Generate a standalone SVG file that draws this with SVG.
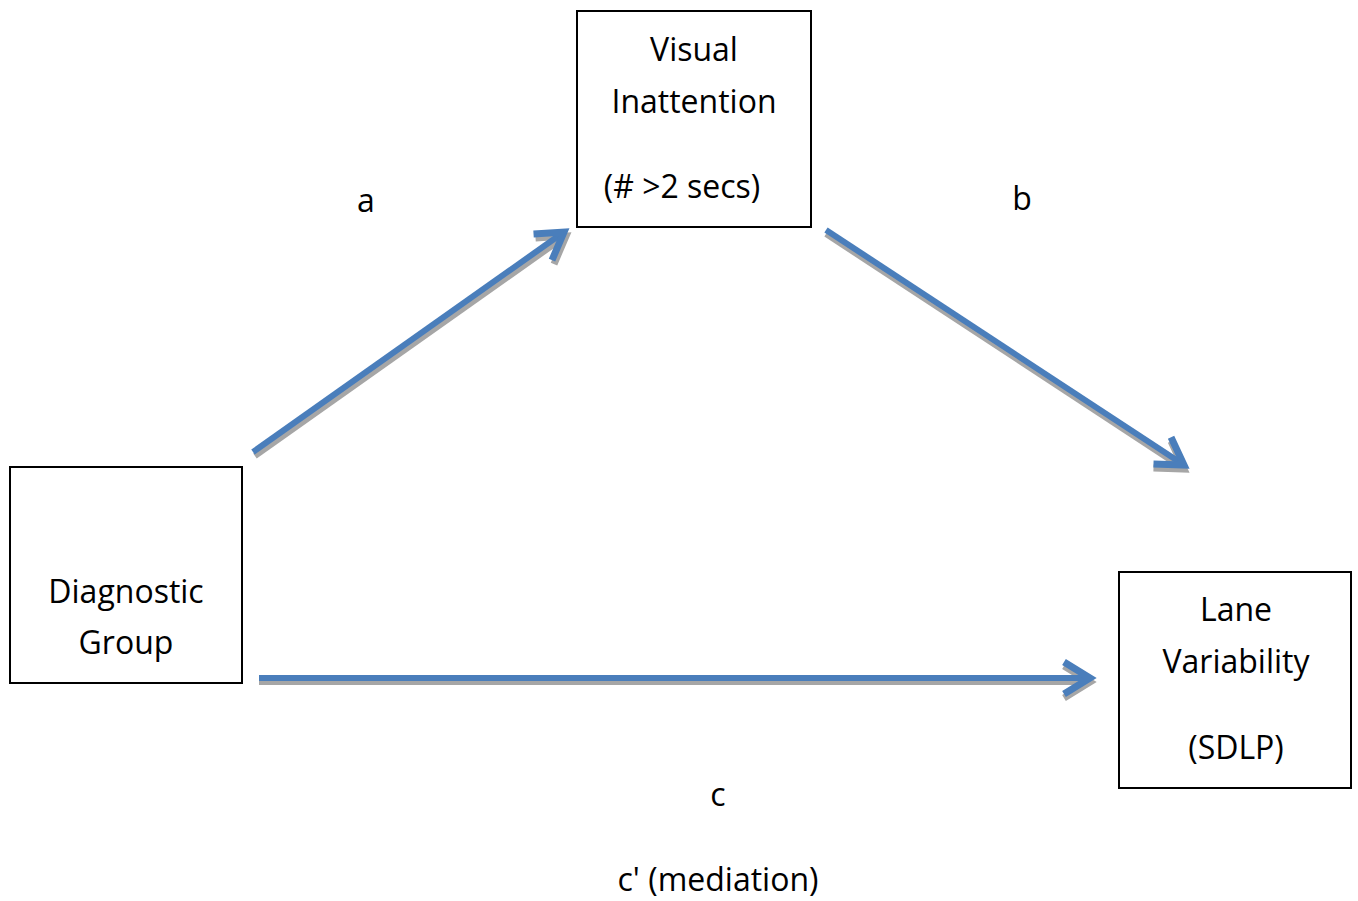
<svg xmlns="http://www.w3.org/2000/svg" width="1358" height="901" viewBox="0 0 1358 901">
<style>
.box{fill:#fff;stroke:#000;stroke-width:2}
.t{font-family:"Open Sans","Liberation Sans",sans-serif;font-size:32px;fill:#000;text-anchor:middle}
.ln{fill:none;stroke:#4a7ebb;stroke-width:6}
.sh{fill:none;stroke:#a6a6a6;stroke-width:6}
</style>
<defs>
<marker id="ah" markerUnits="userSpaceOnUse" viewBox="-40 -30 50 60" refX="0" refY="0" markerWidth="50" markerHeight="60" orient="auto" overflow="visible">
<path d="M-26,-16 L0,0 L-26,16" fill="none" stroke="#4a7ebb" stroke-width="7" stroke-linejoin="miter"/>
</marker>
<marker id="ahs" markerUnits="userSpaceOnUse" viewBox="-40 -30 50 60" refX="0" refY="0" markerWidth="50" markerHeight="60" orient="auto" overflow="visible">
<path d="M-26,-16 L0,0 L-26,16" fill="none" stroke="#a6a6a6" stroke-width="7" stroke-linejoin="miter"/>
</marker>
</defs>
<rect width="1358" height="901" fill="#fff"/>
<g id="connectors">
<line class="sh" x1="255" y1="456" x2="566" y2="236" marker-end="url(#ahs)"/>
<line class="ln" x1="253" y1="452" x2="564" y2="232" marker-end="url(#ah)"/>
<line class="sh" x1="826" y1="234" x2="1184" y2="469" marker-end="url(#ahs)"/>
<line class="ln" x1="826" y1="230" x2="1184" y2="465" marker-end="url(#ah)"/>
<line class="sh" x1="259" y1="682" x2="1090" y2="682" marker-end="url(#ahs)"/>
<line class="ln" x1="259" y1="678" x2="1090" y2="678" marker-end="url(#ah)"/>
</g>
<g id="visual-inattention">
<rect class="box" x="577" y="11" width="234" height="216"/>
<text class="t" x="694" y="61">Visual</text>
<text class="t" x="694" y="113">Inattention</text>
<text class="t" x="682" y="198">(# &gt;2 secs)</text>
</g>
<g id="diagnostic-group">
<rect class="box" x="10" y="467" width="232" height="216"/>
<text class="t" x="126" y="603">Diagnostic</text>
<text class="t" x="126" y="654">Group</text>
</g>
<g id="lane-variability">
<rect class="box" x="1119" y="572" width="232" height="216"/>
<text class="t" x="1236" y="621">Lane</text>
<text class="t" x="1236" y="673">Variability</text>
<text class="t" x="1236" y="759">(SDLP)</text>
</g>
<g id="labels">
<text class="t" x="366" y="212">a</text>
<text class="t" x="1022" y="210">b</text>
<text class="t" x="718" y="806">c</text>
<text class="t" x="718" y="891">c' (mediation)</text>
</g>
</svg>
